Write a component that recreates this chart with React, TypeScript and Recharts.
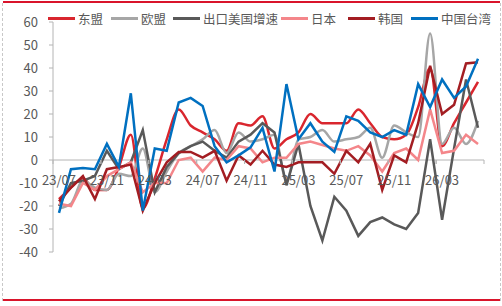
import React from 'react';
import { LineChart, Line, XAxis, YAxis, ReferenceLine } from 'recharts';

const months = [
  '23/07', '23/08', '23/09', '23/10', '23/11', '23/12', '24/01', '24/02', '24/03', '24/04', '24/05', '24/06',
  '24/07', '24/08', '24/09', '24/10', '24/11', '24/12', '25/01', '25/02', '25/03', '25/04', '25/05', '25/06',
  '25/07', '25/08', '25/09', '25/10', '25/11', '25/12', '26/01', '26/02', '26/03', '26/04', '26/05', '26/06',
];

const asean = [-17, -12, -8, -13, -13, -3, 11, -21, -8, 9, 22, 15, 12, 9, 4, 16, 15, 19, 5, 9, 12, 20, 16, 16, 16, 22, 16, 10, 9, 11, 23, 40, 6, 16, 25, 34];
const eu = [-21, -19, -9, -12, -13, -6, -7, 5, -14, -5, 3, 6, 9, 13, 3, 12, 8, 9, 11, -9, 9, 10, 13, 8, 9, 10, 14, 1, 15, 12, 10, 55, 7, 14, 7, 17];
const usExport = [-20, -10, -9, -7, 4, -4, -1, 13, -14, -3, 3, 6, 8, 4, 1, 8, 11, 16, 12, -11, 7, -20, -35, -16, -22, -33, -27, -25, -28, -30, -23, 9, -26, 5, 35, 14];
const japan = [-19, -20, -10, -13, -7, -4, -1, -14, -10, -10, 0, 1, -5, 1, 0, 6, 5, -1, 1, 1, 7, 8, 6.5, 5, 4, 6, 2, -5, 3, 5, 0, 22, 3, 4, 11, 7];
const korea = [-18, -12, -7, -17, -4, -3, -2, -22, -10, -1, 3.5, 3.5, 1, 4, -9, 2, -2, 4, -2, -3, -1, -1, -1, -6, 4, -1, 7, -13, 2, -1, 16, 41, 20, 24, 42, 42.5];
const taiwan = [-23, -4, -3.5, -4, 7, -3, 29, -22, 5, 4, 25, 27, 23.5, 6, -1, 2, 5.5, 14, -5, 33, 9, 16, 8, 3.5, 19, 17, 12, 10, 13, 11, 33, 23, 35, 27, 32, 44];

const yTicks = [-40, -30, -20, -10, 0, 10, 20, 30, 40, 50, 60];

const seriesNames = ['东盟', '欧盟', '出口美国增速', '日本', '韩国', '中国台湾'];
const seriesKeys = ['asean', 'eu', 'usExport', 'japan', 'korea', 'taiwan'];
const seriesValues = [asean, eu, usExport, japan, korea, taiwan];
const seriesColors = ['#d9262e', '#a6a6a6', '#595959', '#f4868a', '#a31d22', '#0070c0'];
const seriesSmooth = [true, true, false, false, false, false];

const data = months.map((m, i) => {
  const row: Record<string, string | number> = { month: m };
  seriesKeys.forEach((k, s) => {
    row[k] = seriesValues[s][i];
  });
  return row;
});

const W = 502;
const H = 306;
const X_AXIS_H = 30;
const MARGIN = { top: 22, right: 18, bottom: 54 - X_AXIS_H, left: 8 };
const Y_AXIS_W = 45;
const PLOT_TOP = MARGIN.top;
const PLOT_H = H - MARGIN.top - MARGIN.bottom - X_AXIS_H;
const PLOT_W = W - MARGIN.left - MARGIN.right - Y_AXIS_W;
const Y_MIN = -40;
const Y_MAX = 60;
const ZERO_Y = PLOT_TOP + (PLOT_H * (Y_MAX - 0)) / (Y_MAX - Y_MIN);
const BAND = PLOT_W / months.length;
const AXIS_COLOR = '#b4b4b4';
const TEXT_COLOR = '#595959';
const FONT = '"Noto Sans CJK SC", "Noto Sans", sans-serif';

const legendLefts = [48, 111, 173, 281, 348, 411];

const XTick = (props: any) => {
  const { x, payload } = props;
  const left = x - BAND / 2;
  const right = x + BAND * 3.5;
  return (
    <g>
      <line x1={left} x2={left} y1={ZERO_Y} y2={ZERO_Y + 4} stroke={AXIS_COLOR} strokeWidth={1} />
      <line x1={right} x2={right} y1={ZERO_Y} y2={ZERO_Y + 4} stroke={AXIS_COLOR} strokeWidth={1} />
      <text x={x} y={ZERO_Y + 25} textAnchor="middle" fill={TEXT_COLOR} fontSize={13} fontFamily={FONT}>
        {payload.value}
      </text>
    </g>
  );
};

export default function App() {
  return (
    <div style={{ position: 'absolute', left: 0, top: 0, width: W, height: H, background: '#fff', fontFamily: FONT }}>
      <div style={{ position: 'absolute', left: 3, right: 2, top: 1, height: 2, background: '#d9142b' }} />
      <div style={{ position: 'absolute', left: 3, right: 2, top: 299, height: 2, background: '#d9142b' }} />
      <div style={{ position: 'absolute', left: 2, top: 3, bottom: 5, borderLeft: '1px dashed #c8c8c8' }} />
      <div style={{ position: 'absolute', left: 500, top: 3, bottom: 5, borderLeft: '1px dashed #c8c8c8' }} />
      {seriesNames.map((n, i) => (
        <div
          key={n}
          style={{ position: 'absolute', left: legendLefts[i], top: 10, height: 17, display: 'flex', alignItems: 'center', whiteSpace: 'nowrap' }}
        >
          <div style={{ width: 27, height: 2.5, background: seriesColors[i] }} />
          <span style={{ marginLeft: 3, fontSize: 12.5, color: TEXT_COLOR, lineHeight: '17px' }}>{n}</span>
        </div>
      ))}
      <div style={{ position: 'absolute', left: 0, top: 0 }}>
        <LineChart width={W} height={H} data={data} margin={MARGIN}>
          <XAxis
            dataKey="month"
            interval={3}
            height={X_AXIS_H}
            padding={{ left: BAND / 2, right: BAND / 2 }}
            axisLine={false}
            tickLine={false}
            tick={<XTick />}
          />
          <YAxis
            width={Y_AXIS_W}
            domain={[Y_MIN, Y_MAX]}
            ticks={yTicks}
            interval={0}
            tickSize={4}
            tickMargin={11}
            axisLine={{ stroke: AXIS_COLOR }}
            tickLine={{ stroke: AXIS_COLOR }}
            tick={{ fill: TEXT_COLOR, fontSize: 13, fontFamily: FONT }}
          />
          <ReferenceLine y={0} stroke={AXIS_COLOR} strokeWidth={1} />
          {seriesKeys.map((k, i) => (
            <Line
              key={k}
              dataKey={k}
              name={seriesNames[i]}
              type={seriesSmooth[i] ? 'monotone' : 'linear'}
              stroke={seriesColors[i]}
              strokeWidth={2.5}
              dot={false}
              activeDot={false}
              isAnimationActive={false}
            />
          ))}
        </LineChart>
      </div>
    </div>
  );
}
